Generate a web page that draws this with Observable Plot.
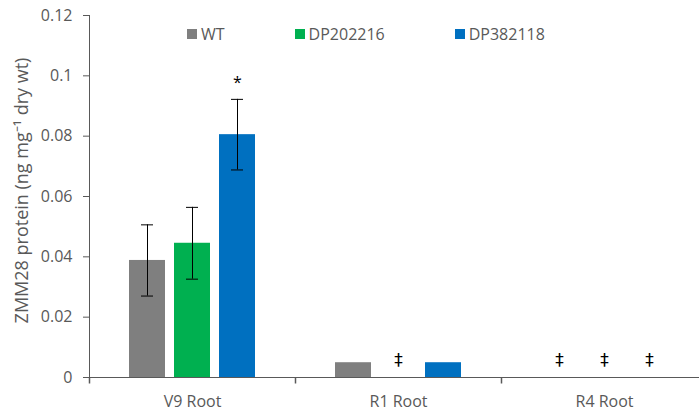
<!DOCTYPE html>
<html>
<head>
<meta charset="utf-8">
<script src="https://cdn.jsdelivr.net/npm/d3@7"></script>
<script src="https://cdn.jsdelivr.net/npm/@observablehq/plot@0.6"></script>
<style>
  html, body { margin: 0; padding: 0; background: #fff; }
  #wrap { position: relative; width: 699px; height: 414px; overflow: hidden; font-family: "Open Sans", sans-serif; }
  #wrap svg { max-width: none !important; }
  #legend { position: absolute; left: 187px; top: 23px; display: flex; gap: 70px; font-size: 16px; color: #595959; line-height: 22px; z-index: 2; }
  #legend .item { display: flex; align-items: center; }
  #legend .sw { width: 10px; height: 10px; margin-right: 4px; display: inline-block; }
</style>
</head>
<body>
<div id="wrap"><div id="legend"></div></div>
<script>
const categories = ["V9 Root", "R1 Root", "R4 Root"];
const series = ["WT", "DP202216", "DP382118"];
const colors = ["#7F7F7F", "#00B050", "#0070C0"];
// mean values (null = below LLOQ, marked with ‡)
const wtValues = [0.0388, 0.0049, null];
const dp202216Values = [0.0445, null, null];
const dp382118Values = [0.0805, 0.0049, null];
// error (± standard deviation)
const wtErr = [0.0118, null, null];
const dp202216Err = [0.0119, null, null];
const dp382118Err = [0.0117, null, null];
// significance marks
const significant = [["V9 Root", "DP382118"]];
const yTicks = [0, 0.02, 0.04, 0.06, 0.08, 0.1, 0.12];
const yLabel = "ZMM28 protein (ng mg\u207B\u00B9 dry wt)";

const valueSets = [wtValues, dp202216Values, dp382118Values];
const errSets = [wtErr, dp202216Err, dp382118Err];
const rows = [];
categories.forEach((c, i) => series.forEach((s, j) => {
  rows.push({category: c, series: s, value: valueSets[j][i], err: errSets[j][i]});
}));
const barRows = rows.filter(d => d.value != null);
const errRows = rows.filter(d => d.value != null && d.err != null)
  .map(d => ({...d, lo: d.value - d.err, hi: d.value + d.err}));
const ndRows = rows.filter(d => d.value == null);
const starRows = errRows.filter(d => significant.some(([c, s]) => c === d.category && s === d.series));

const axisColor = "#595959";
const tickSymbol = { draw(ctx) { ctx.moveTo(0, 0); ctx.lineTo(0, 6); } };

const chart = Plot.plot({
  width: 707,
  height: 414,
  marginLeft: 89,
  marginRight: 0,
  marginTop: 15,
  marginBottom: 37,
  style: {fontFamily: "'Open Sans', sans-serif", fontSize: "16px", color: "#595959", background: "white", maxWidth: "none"},
  fx: {domain: categories, padding: 0, label: null},
  x: {domain: series, paddingInner: 0.209, paddingOuter: 0.868, axis: null},
  y: {domain: [0, 0.12], axis: null},
  color: {domain: series, range: colors},
  marks: [
    Plot.axisFx({anchor: "bottom", tickSize: 0, tickPadding: 18, label: null}),
    Plot.axisY({ticks: yTicks, tickSize: 6, tickPadding: 11, tickFormat: d => String(d), label: null, stroke: axisColor}),
    Plot.frame({anchor: "left", facetAnchor: "left", stroke: axisColor}),
    Plot.barY(barRows, {fx: "category", x: "series", y: "value", fill: "series"}),
    Plot.ruleY([0], {stroke: axisColor}),
    Plot.ruleX(errRows, {fx: "category", x: "series", y1: "lo", y2: "hi", stroke: "#000"}),
    Plot.tickY(errRows, {fx: "category", x: "series", y: "lo", stroke: "#000", insetLeft: 12, insetRight: 12}),
    Plot.tickY(errRows, {fx: "category", x: "series", y: "hi", stroke: "#000", insetLeft: 12, insetRight: 12}),
    Plot.text(starRows, {fx: "category", x: "series", y: "hi", text: () => "*", dy: -16, fill: "#000", fontSize: 16}),
    Plot.text(ndRows, {fx: "category", x: "series", y: () => 0, text: () => "\u2021", dy: -17, fill: "#000", fontSize: 17, fontFamily: "DejaVu Sans"}),
    Plot.dot(categories, {fx: d => d, x: null, y: null, frameAnchor: "bottom-left", symbol: tickSymbol, stroke: axisColor, fill: "none"}),
    Plot.text([yLabel], {facetAnchor: "left", frameAnchor: "left", textAnchor: "middle", rotate: -90, dx: -67, dy: -6, fill: "#595959", fontSize: 18})
  ]
});
chart.style.maxWidth = "none";

const wrap = document.getElementById("wrap");
wrap.appendChild(chart);
const legend = document.getElementById("legend");
series.forEach((s, i) => {
  const item = document.createElement("div");
  item.className = "item";
  const sw = document.createElement("span");
  sw.className = "sw";
  sw.style.background = colors[i];
  item.appendChild(sw);
  const t = document.createElement("span");
  t.textContent = s;
  item.appendChild(t);
  legend.appendChild(item);
});
</script>
</body>
</html>
